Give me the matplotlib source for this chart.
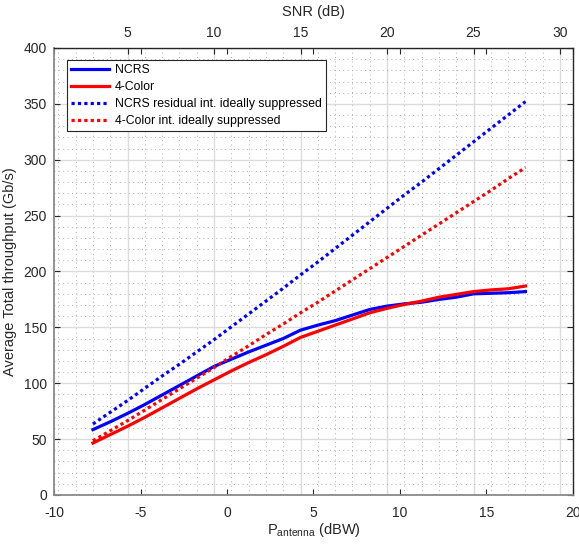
import matplotlib
matplotlib.use("Agg")
import matplotlib.pyplot as plt
from matplotlib.ticker import MultipleLocator

plt.rcParams["font.family"] = ["Liberation Sans", "DejaVu Sans"]
plt.rcParams["axes.unicode_minus"] = False

# SNR from 3 to 28 dB, antenna power is SNR - 10.75 dB
snr = list(range(3, 29))
snr_offset = 10.75
p_antenna = [s - snr_offset for s in snr]

ncrs = [58.5, 65.5, 73, 81, 89.5, 98, 106.5, 115, 121.5, 128, 134, 140, 147.5,
        152, 156, 161, 166, 169, 171, 172.5, 175, 177, 180, 180.5, 181, 182]
four_color = [46.5, 54, 61.5, 69.5, 78, 86.5, 95, 103, 111, 118.5, 125.5, 133, 141,
              146.5, 152, 157.5, 163, 167, 170.5, 173.5, 177, 179.5, 182, 183.5, 184.5, 187]
ncrs_ideal = [63.5, 74, 84.5, 95.5, 106.5, 117, 128, 139, 150.5, 162, 173.5, 185, 197,
              208.5, 220.5, 232.5, 244.5, 256.5, 268.5, 280, 292, 304, 316, 328, 340, 352]
four_color_ideal = [48.5, 57.5, 66.5, 76, 85.5, 95, 104.5, 114, 124, 133.5, 143.5, 153, 163,
                    172.5, 182.5, 192.5, 202.5, 212.5, 222.5, 232.5, 242.5, 252.5, 262.5,
                    272.5, 283, 293]

labels = ["NCRS", "4-Color", "NCRS residual int. ideally suppressed",
          "4-Color int. ideally suppressed"]

fig = plt.figure(figsize=(5.79, 5.44), dpi=100)
ax = fig.add_axes([0.0933, 0.0901, 0.8963, 0.8217])
ax2 = ax.twiny()

# top axis sits below so its grid stays under the curves
ax.set_zorder(ax2.get_zorder() + 1)
ax.patch.set_visible(False)

ax.plot(p_antenna, ncrs, color="#0000ff", lw=2.3, label=labels[0])
ax.plot(p_antenna, four_color, color="#ff0000", lw=2.3, label=labels[1])
ax.plot(p_antenna, ncrs_ideal, color="#0000ff", lw=2.3, ls=(0, (1, 1)), label=labels[2])
ax.plot(p_antenna, four_color_ideal, color="#ff0000", lw=2.3, ls=(0, (1, 1)), label=labels[3])

ax.set_xlim(-10, 20)
ax.set_ylim(0, 400)
ax.xaxis.set_major_locator(MultipleLocator(5))
ax.yaxis.set_major_locator(MultipleLocator(50))
ax.yaxis.set_minor_locator(MultipleLocator(10))
ax.set_axisbelow(True)
ax.grid(True, axis="y", which="major", color="#dcdcdc", lw=1)
ax.grid(True, axis="y", which="minor", color="#b0b0b0", lw=0.7, ls=(0, (1, 3.5)))
ax.tick_params(which="major", direction="in", length=4, top=True, right=True,
               labeltop=False, labelsize=10, colors="#262626", width=0.8)
ax.tick_params(axis="x", which="major", pad=8)
ax.tick_params(axis="y", which="major", pad=5)
ax.tick_params(which="minor", length=0)

ax2.set_xlim(-10 + snr_offset, 20 + snr_offset)
ax2.xaxis.set_major_locator(MultipleLocator(5))
ax2.xaxis.set_minor_locator(MultipleLocator(1))
ax2.grid(True, which="major", color="#dcdcdc", lw=1)
ax2.grid(True, which="minor", color="#b0b0b0", lw=0.7, ls=(0, (1, 3.5)))
ax2.tick_params(which="major", direction="in", length=4, labelsize=10,
                colors="#262626", width=0.8, pad=6)
ax2.tick_params(which="minor", length=0)
for s in ax2.spines.values():
    s.set_visible(False)

for side in ["left", "bottom"]:
    ax.spines[side].set_color("#8a8a8a")
    ax.spines[side].set_linewidth(1.3)
for side in ["top", "right"]:
    ax.spines[side].set_color("#262626")
    ax.spines[side].set_linewidth(1.0)

ax.set_xlabel(r"P$_{\mathregular{antenna}}$ (dBW)", fontsize=10.5, color="#262626", labelpad=1)
ax.set_ylabel("Average Total throughput (Gb/s)", fontsize=10.5, color="#262626", labelpad=5)
ax2.set_xlabel("SNR (dB)", fontsize=10.5, color="#262626", labelpad=7)

leg = ax.legend(loc="upper left", bbox_to_anchor=(0.025, 0.973), borderaxespad=0,
                fontsize=8.8, handlelength=3.1, handletextpad=0.45, labelspacing=0.4,
                borderpad=0.35, fancybox=False, framealpha=1, edgecolor="#262626")
leg.get_frame().set_linewidth(0.8)

fig.savefig("out.png", dpi=100)
